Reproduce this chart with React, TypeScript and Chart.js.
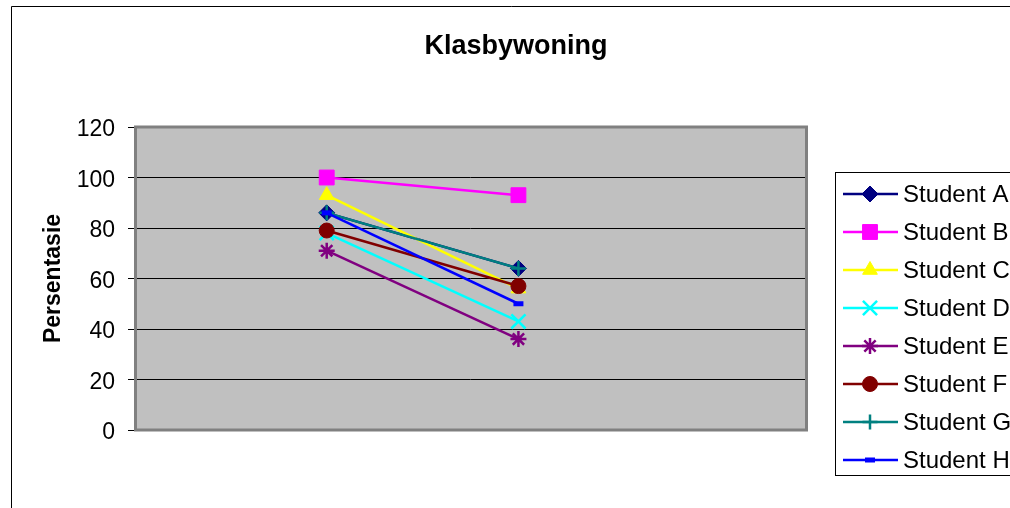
import React, { useEffect, useRef } from "react";
import { Chart, registerables } from "chart.js";
import { drawPoint } from "chart.js/helpers";

Chart.register(...registerables);

const title = "Klasbywoning";
const yTitle = "Persentasie";
const categories = ["1", "2"];
const seriesNames = ["Student A", "Student B", "Student C", "Student D", "Student E", "Student F", "Student G", "Student H"];
const studentA = [86, 64];
const studentB = [100, 93];
const studentC = [93, 56];
const studentD = [78, 43];
const studentE = [71, 36];
const studentF = [79, 57];
const studentG = [86, 64];
const studentH = [86, 50];
const seriesValues = [studentA, studentB, studentC, studentD, studentE, studentF, studentG, studentH];
const yTicks = [0, 20, 40, 60, 80, 100, 120];

const colors = ["#000080", "#FF00FF", "#FFFF00", "#00FFFF", "#800080", "#800000", "#008080", "#0000FF"];
const styles: any[] = ["rectRot", "rect", "triangle", "crossRot", "star", "circle", "cross", "line"];
const radii = [8, 10.5, 8.5, 10, 8, 7.5, 7.5, 5];
const pointBW = [1, 1, 1, 2.5, 2.5, 1, 2.5, 5];

const FONT = "'Liberation Sans', Arial, sans-serif";

export default function App() {
  const ref = useRef<HTMLCanvasElement>(null);
  useEffect(() => {
    const canvas = ref.current!;
    const framePlugin = {
      id: "frame",
      beforeDraw(chart: any) {
        const ctx = chart.ctx;
        const a = chart.chartArea;
        ctx.save();
        ctx.fillStyle = "#ffffff";
        ctx.fillRect(0, 0, chart.width, chart.height);
        ctx.strokeStyle = "#000000";
        ctx.lineWidth = 1;
        ctx.beginPath();
        ctx.moveTo(11.5, chart.height + 2);
        ctx.lineTo(11.5, 6.5);
        ctx.lineTo(chart.width + 2, 6.5);
        ctx.stroke();
        ctx.fillStyle = "#C0C0C0";
        ctx.fillRect(a.left, a.top, a.right - a.left, a.bottom - a.top);
        ctx.fillStyle = "#000";
        ctx.font = `bold 27px ${FONT}`;
        ctx.textAlign = "center";
        ctx.textBaseline = "middle";
        ctx.fillText(title, 516, 47);
        ctx.restore();
      },
      beforeDatasetsDraw(chart: any) {
        const ctx = chart.ctx;
        const a = chart.chartArea;
        ctx.save();
        ctx.strokeStyle = "#808080";
        ctx.lineWidth = 3;
        ctx.strokeRect(a.left + 0.5, a.top, a.right - a.left, a.bottom - a.top);
        ctx.restore();
      },
      afterDraw(chart: any) {
        const ctx = chart.ctx;
        ctx.save();
        ctx.strokeStyle = "#000";
        ctx.lineWidth = 1;
        ctx.strokeRect(835.5, 172.5, 300, 303);
        seriesNames.forEach((name, i) => {
          const y = 194 + i * 38;
          ctx.strokeStyle = colors[i];
          ctx.lineWidth = 2.5;
          ctx.beginPath();
          ctx.moveTo(843, y);
          ctx.lineTo(898, y);
          ctx.stroke();
          ctx.fillStyle = colors[i];
          ctx.strokeStyle = colors[i];
          ctx.lineWidth = pointBW[i];
          drawPoint(ctx, { pointStyle: styles[i], rotation: 0, radius: radii[i], borderWidth: pointBW[i] } as any, 870, y);
          ctx.fillStyle = "#000";
          ctx.font = `24px ${FONT}`;
          ctx.textAlign = "left";
          ctx.textBaseline = "middle";
          ctx.fillText(name, 903, y + 1);
        });
        ctx.restore();
      },
    };

    const chart = new Chart(canvas, {
      type: "line",
      data: {
        datasets: seriesNames.map((name, i) => ({
          label: name,
          data: seriesValues[i].map((v, j) => ({ x: j + 1, y: v, c: categories[j] })),
          borderColor: colors[i],
          backgroundColor: colors[i],
          borderWidth: 2.5,
          pointStyle: styles[i],
          pointRadius: radii[i],
          pointHoverRadius: radii[i],
          pointBorderWidth: pointBW[i],
          pointBackgroundColor: colors[i],
          pointBorderColor: colors[i],
          order: seriesNames.length - i,
          tension: 0,
          fill: false,
        })),
      },
      options: {
        responsive: false,
        animation: false,
        events: [],
        layout: { padding: { left: 11, top: 127, right: 204, bottom: 78 } },
        plugins: { legend: { display: false }, tooltip: { enabled: false }, title: { display: false } },
        scales: {
          x: { type: "linear", display: false, min: 0, max: 3.5 },
          y: {
            min: 0,
            max: 120,
            afterFit(scale: any) {
              scale.width = 124;
            },
            afterBuildTicks(scale: any) {
              scale.ticks = yTicks.map((v) => ({ value: v }));
            },
            ticks: { color: "#000", font: { family: FONT, size: 23 }, padding: 13, labelOffset: 3 },
            grid: { color: "#000", lineWidth: 1, tickColor: "#000", tickLength: 7, drawTicks: true },
            border: { display: false },
            title: {
              display: true,
              text: yTitle,
              color: "#000",
              font: { family: FONT, size: 23, weight: "bold" },
              padding: { top: 29, bottom: 0 },
            },
          },
        },
      },
      plugins: [framePlugin],
    } as any);
    return () => chart.destroy();
  }, []);
  return (
    <div style={{ position: "fixed", left: 0, top: 0, width: 1010, height: 508 }}>
      <canvas ref={ref} width={1010} height={508} style={{ display: "block" }} />
    </div>
  );
}
